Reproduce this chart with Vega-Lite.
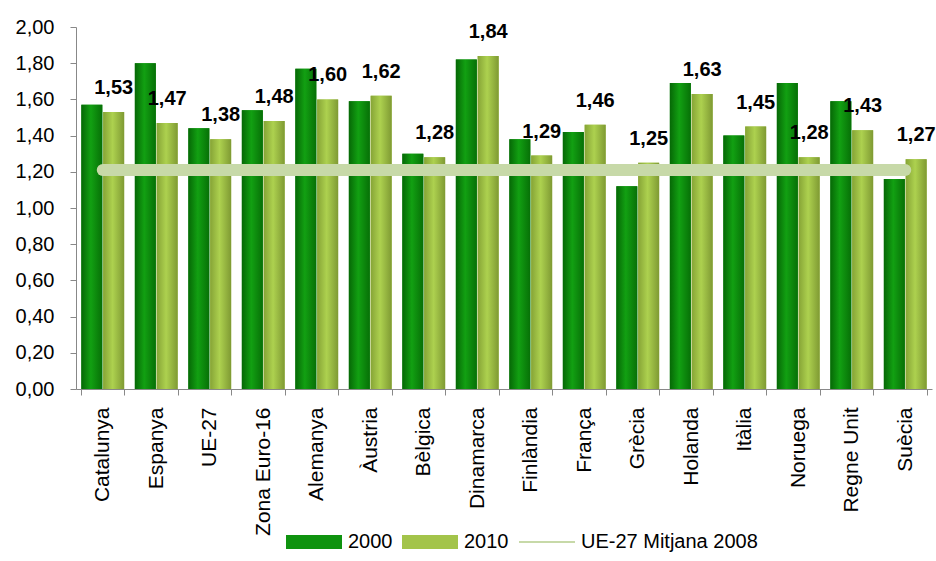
{
  "$schema": "https://vega.github.io/schema/vega-lite/v6.json",
  "width": 856,
  "height": 362,
  "autosize": {"type": "none"},
  "padding": {"left": 76, "top": 27, "right": 4, "bottom": 172},
  "background": "white",
  "config": {
    "locale": {"number": {"decimal": ",", "thousands": ".", "grouping": [3], "currency": ["", " €"]}},
    "view": {"stroke": null},
    "font": "Liberation Sans"
  },
  "datasets": {
    "barres": [
      {"pais": "Catalunya", "serie": "2000", "valor": 1.57},
      {"pais": "Catalunya", "serie": "2010", "valor": 1.53},
      {"pais": "Espanya", "serie": "2000", "valor": 1.80},
      {"pais": "Espanya", "serie": "2010", "valor": 1.47},
      {"pais": "UE-27", "serie": "2000", "valor": 1.44},
      {"pais": "UE-27", "serie": "2010", "valor": 1.38},
      {"pais": "Zona Euro-16", "serie": "2000", "valor": 1.54},
      {"pais": "Zona Euro-16", "serie": "2010", "valor": 1.48},
      {"pais": "Alemanya", "serie": "2000", "valor": 1.77},
      {"pais": "Alemanya", "serie": "2010", "valor": 1.60},
      {"pais": "Àustria", "serie": "2000", "valor": 1.59},
      {"pais": "Àustria", "serie": "2010", "valor": 1.62},
      {"pais": "Bèlgica", "serie": "2000", "valor": 1.30},
      {"pais": "Bèlgica", "serie": "2010", "valor": 1.28},
      {"pais": "Dinamarca", "serie": "2000", "valor": 1.82},
      {"pais": "Dinamarca", "serie": "2010", "valor": 1.84},
      {"pais": "Finlàndia", "serie": "2000", "valor": 1.38},
      {"pais": "Finlàndia", "serie": "2010", "valor": 1.29},
      {"pais": "França", "serie": "2000", "valor": 1.42},
      {"pais": "França", "serie": "2010", "valor": 1.46},
      {"pais": "Grècia", "serie": "2000", "valor": 1.12},
      {"pais": "Grècia", "serie": "2010", "valor": 1.25},
      {"pais": "Holanda", "serie": "2000", "valor": 1.69},
      {"pais": "Holanda", "serie": "2010", "valor": 1.63},
      {"pais": "Itàlia", "serie": "2000", "valor": 1.40},
      {"pais": "Itàlia", "serie": "2010", "valor": 1.45},
      {"pais": "Noruega", "serie": "2000", "valor": 1.69},
      {"pais": "Noruega", "serie": "2010", "valor": 1.28},
      {"pais": "Regne Unit", "serie": "2000", "valor": 1.59},
      {"pais": "Regne Unit", "serie": "2010", "valor": 1.43},
      {"pais": "Suècia", "serie": "2000", "valor": 1.16},
      {"pais": "Suècia", "serie": "2010", "valor": 1.27}
    ],
    "mitjana": [
      {"pais": "Catalunya", "serie": "UE-27 Mitjana 2008", "valor": 1.21},
      {"pais": "Suècia", "serie": "UE-27 Mitjana 2008", "valor": 1.21}
    ]
  },
  "encoding": {
    "x": {
      "field": "pais",
      "type": "nominal",
      "scale": {
        "domain": ["Catalunya", "Espanya", "UE-27", "Zona Euro-16", "Alemanya", "Àustria", "Bèlgica", "Dinamarca", "Finlàndia", "França", "Grècia", "Holanda", "Itàlia", "Noruega", "Regne Unit", "Suècia"],
        "paddingInner": 0.2,
        "paddingOuter": 0.1
      },
      "axis": {
        "title": null,
        "labelAngle": 270,
        "labelAlign": "right",
        "labelBaseline": "middle",
        "labelFontSize": 21,
        "labelColor": "black",
        "labelPadding": 12,
        "tickBand": "extent",
        "tickSize": 6,
        "tickColor": "#888888",
        "domainColor": "#888888",
        "labelLimit": 300
      }
    },
    "y": {
      "field": "valor",
      "type": "quantitative",
      "scale": {"domain": [0, 2], "nice": false},
      "axis": {
        "title": null,
        "values": [0, 0.2, 0.4, 0.6, 0.8, 1.0, 1.2, 1.4, 1.6, 1.8, 2.0],
        "format": ".2f",
        "grid": false,
        "labelFontSize": 20,
        "labelColor": "black",
        "labelPadding": 16,
        "tickSize": 6,
        "tickColor": "#888888",
        "domainColor": "#888888"
      }
    }
  },
  "layer": [
    {
      "data": {"name": "barres"},
      "mark": {"type": "bar"},
      "encoding": {
        "xOffset": {"field": "serie", "type": "nominal", "scale": {"domain": ["2000", "2010"], "paddingInner": 0.04}},
        "color": {
          "field": "serie",
          "type": "nominal",
          "scale": {"domain": ["2000", "2010", "UE-27 Mitjana 2008"], "range": ["#0f930f", "#a3c44a", "#c7d9a8"]},
          "legend": {
            "title": null,
            "orient": "none",
            "legendX": 207,
            "legendY": 505,
            "direction": "horizontal",
            "labelFontSize": 20,
            "labelColor": "black",
            "symbolSize": 196,
            "labelOffset": 45,
            "columnPadding": 6,
            "labelLimit": 400,
            "symbolStrokeWidth": 0,
            "encode": {
              "symbols": {
                "update": {
                  "shape": {"signal": "datum.value === 'UE-27 Mitjana 2008' ? 'M-1,0H7' : 'M-1,-1H7V1H-1Z'"},
                  "stroke": {"signal": "datum.value === 'UE-27 Mitjana 2008' ? '#c7d9a8' : null"},
                  "strokeWidth": {"signal": "datum.value === 'UE-27 Mitjana 2008' ? 2 : 0"}
                }
              }
            }
          }
        }
      }
    },
    {
      "data": {"name": "barres"},
      "transform": [{"filter": "datum.serie === '2000'"}],
      "mark": {
        "type": "bar",
        "color": {"gradient": "linear", "x1": 0, "x2": 1, "y1": 0, "y2": 0,
          "stops": [{"offset": 0, "color": "#066806"}, {"offset": 0.45, "color": "#12a012"}, {"offset": 1, "color": "#077007"}]}
      },
      "encoding": {
        "xOffset": {"field": "serie", "type": "nominal"}
      }
    },
    {
      "data": {"name": "barres"},
      "transform": [{"filter": "datum.serie === '2010'"}],
      "mark": {
        "type": "bar",
        "color": {"gradient": "linear", "x1": 0, "x2": 1, "y1": 0, "y2": 0,
          "stops": [{"offset": 0, "color": "#86a436"}, {"offset": 0.45, "color": "#add14f"}, {"offset": 1, "color": "#7f9a33"}]}
      },
      "encoding": {
        "xOffset": {"field": "serie", "type": "nominal"}
      }
    },
    {
      "data": {"name": "mitjana"},
      "mark": {"type": "line", "strokeWidth": 12, "strokeCap": "round"},
      "encoding": {
        "color": {"field": "serie", "type": "nominal"}
      }
    },
    {
      "data": {"name": "barres"},
      "transform": [{"filter": "datum.serie === '2010'"}],
      "mark": {"type": "text", "fontSize": 20, "fontWeight": "bold", "baseline": "alphabetic", "dy": -18, "color": "black"},
      "encoding": {
        "xOffset": {"field": "serie", "type": "nominal"},
        "text": {"field": "valor", "type": "quantitative", "format": ".2f"}
      }
    }
  ]
}
